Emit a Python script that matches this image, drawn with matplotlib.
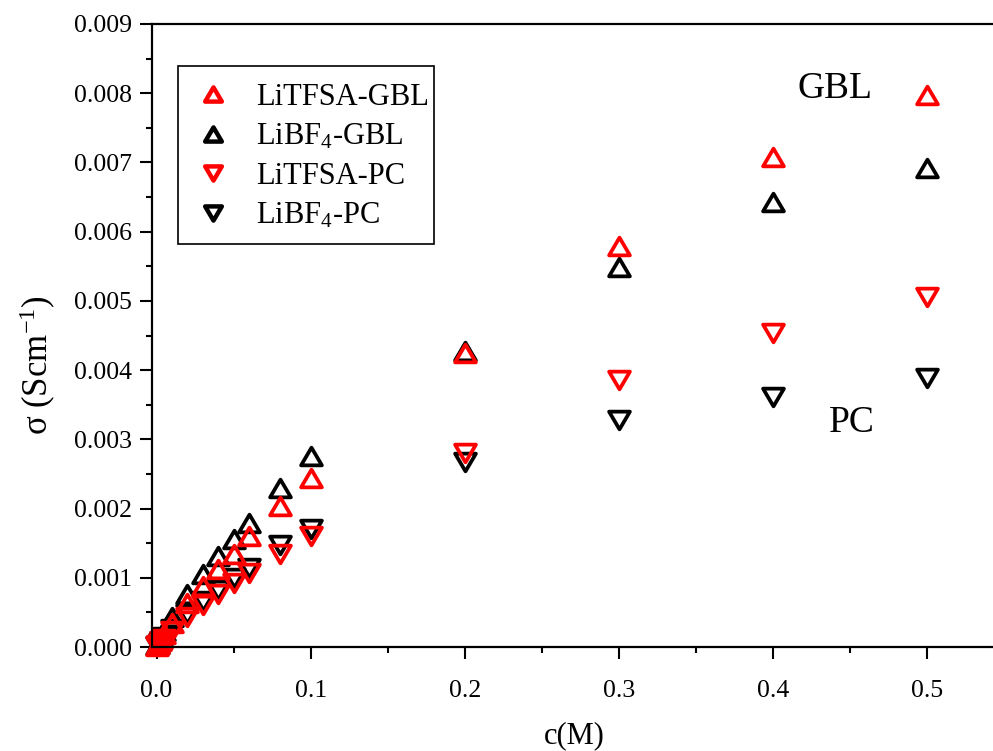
import matplotlib
matplotlib.use("Agg")
import matplotlib.pyplot as plt
from matplotlib.path import Path
from matplotlib.lines import Line2D
from matplotlib.patches import Rectangle

plt.rcParams['font.family'] = ['Liberation Serif', 'DejaVu Serif']
plt.rcParams['mathtext.fontset'] = 'custom'
plt.rcParams['mathtext.rm'] = 'Liberation Serif'
plt.rcParams['mathtext.it'] = 'Liberation Serif:italic'

conc = [0.0005, 0.001, 0.002, 0.003, 0.005, 0.01, 0.02, 0.03, 0.04, 0.05,
        0.06, 0.08, 0.1, 0.2, 0.3, 0.4, 0.5]
litfsa_gbl = [0.00002, 0.00004, 0.00008, 0.00012, 0.00019, 0.00035, 0.00063,
              0.00088, 0.00112, 0.00135, 0.00161, 0.00203, 0.00244, 0.00425,
              0.00580, 0.00708, 0.00797]
libf4_gbl = [0.000025, 0.00005, 0.0001, 0.00014, 0.00023, 0.00043, 0.00077,
             0.00105, 0.00131, 0.00156, 0.00179, 0.00229, 0.00276, 0.00428,
             0.00549, 0.00643, 0.00692]
litfsa_pc = [0.000015, 0.00003, 0.00005, 0.00008, 0.00012, 0.00023, 0.00043,
             0.00060, 0.00077, 0.00093, 0.00107, 0.00135, 0.00161, 0.00280,
             0.00385, 0.00454, 0.00505]
libf4_pc = [0.000015, 0.00003, 0.00006, 0.00009, 0.00014, 0.00026, 0.00048,
            0.00066, 0.00083, 0.00099, 0.00114, 0.00147, 0.00170, 0.00267,
            0.00328, 0.00361, 0.00389]

labels = ['LiTFSA-GBL', 'LiBF$_4$-GBL', 'LiTFSA-PC', 'LiBF$_4$-PC']

# Origin-style triangles, a bit wider than tall
tri_up = Path([(-1, -0.85), (1, -0.85), (0, 0.85), (-1, -0.85)],
              [Path.MOVETO, Path.LINETO, Path.LINETO, Path.CLOSEPOLY])
tri_dn = Path([(-1, 0.85), (1, 0.85), (0, -0.85), (-1, 0.85)],
              [Path.MOVETO, Path.LINETO, Path.LINETO, Path.CLOSEPOLY])

W, H = 993, 751
fig = plt.figure(figsize=(9.93, 7.51), dpi=100)
ax = fig.add_axes([152 / W, 104 / H, (996 - 152) / W, (647 - 24) / H])

style = dict(ls='none', ms=15, mew=2.7, mfc='none', clip_on=False)
ax.plot(conc, libf4_gbl, marker=tri_up, mec='black', **style)
ax.plot(conc, libf4_pc, marker=tri_dn, mec='black', **style)
ax.plot(conc, litfsa_gbl, marker=tri_up, mec='red', **style)
ax.plot(conc, litfsa_pc, marker=tri_dn, mec='red', **style)

ax.set_xlim(-0.003, 0.545)
ax.set_ylim(0, 0.009)
ax.set_xticks([0.0, 0.1, 0.2, 0.3, 0.4, 0.5])
ax.set_xticklabels(['0.0', '0.1', '0.2', '0.3', '0.4', '0.5'])
ax.set_xticks([0.05, 0.15, 0.25, 0.35, 0.45], minor=True)
yt = [i * 0.001 for i in range(10)]
ax.set_yticks(yt)
ax.set_yticklabels(['%.3f' % v for v in yt])
ax.set_yticks([0.0005 + i * 0.001 for i in range(9)], minor=True)

ax.tick_params(which='major', direction='out', length=8.5, width=1.5,
               labelsize=18.5, pad=6)
ax.tick_params(axis='x', which='major', pad=15)
ax.tick_params(which='minor', direction='out', length=4.5, width=1.5)
for s in ax.spines.values():
    s.set_linewidth(1.6)
ax.spines['right'].set_visible(False)

ax.set_xlabel('c(M)', fontsize=22, labelpad=14)
ax.set_ylabel('σ (Scm$^{\\mathregular{-1}}$)', fontsize=25)
ax.yaxis.set_label_coords(-0.111, 0.4526)

ax.text(0.4404, 0.00793, 'GBL', fontsize=27, ha='center', va='baseline')
ax.text(0.4514, 0.00311, 'PC', fontsize=27, ha='center', va='baseline')

hstyle = dict(ls='none', ms=12, mew=3.2, mfc='none')
handles = [
    Line2D([], [], marker=tri_up, mec='red', **hstyle),
    Line2D([], [], marker=tri_up, mec='black', **hstyle),
    Line2D([], [], marker=tri_dn, mec='red', **hstyle),
    Line2D([], [], marker=tri_dn, mec='black', **hstyle),
]
ax.legend(handles, labels, loc='upper left',
          bbox_to_anchor=(193 / W, 1 - 83 / H),
          bbox_transform=fig.transFigure, fontsize=22, frameon=False,
          borderpad=0, labelspacing=0.33, handlelength=1.3,
          handletextpad=0.75, borderaxespad=0)
# legend frame drawn separately (Origin keeps uneven padding)
fig.patches.append(Rectangle((178 / W, 1 - 244 / H), (434 - 178) / W,
                             (244 - 66) / H, transform=fig.transFigure,
                             fill=False, edgecolor='black', linewidth=1.2,
                             zorder=5))

fig.savefig('out.png', dpi=100)
